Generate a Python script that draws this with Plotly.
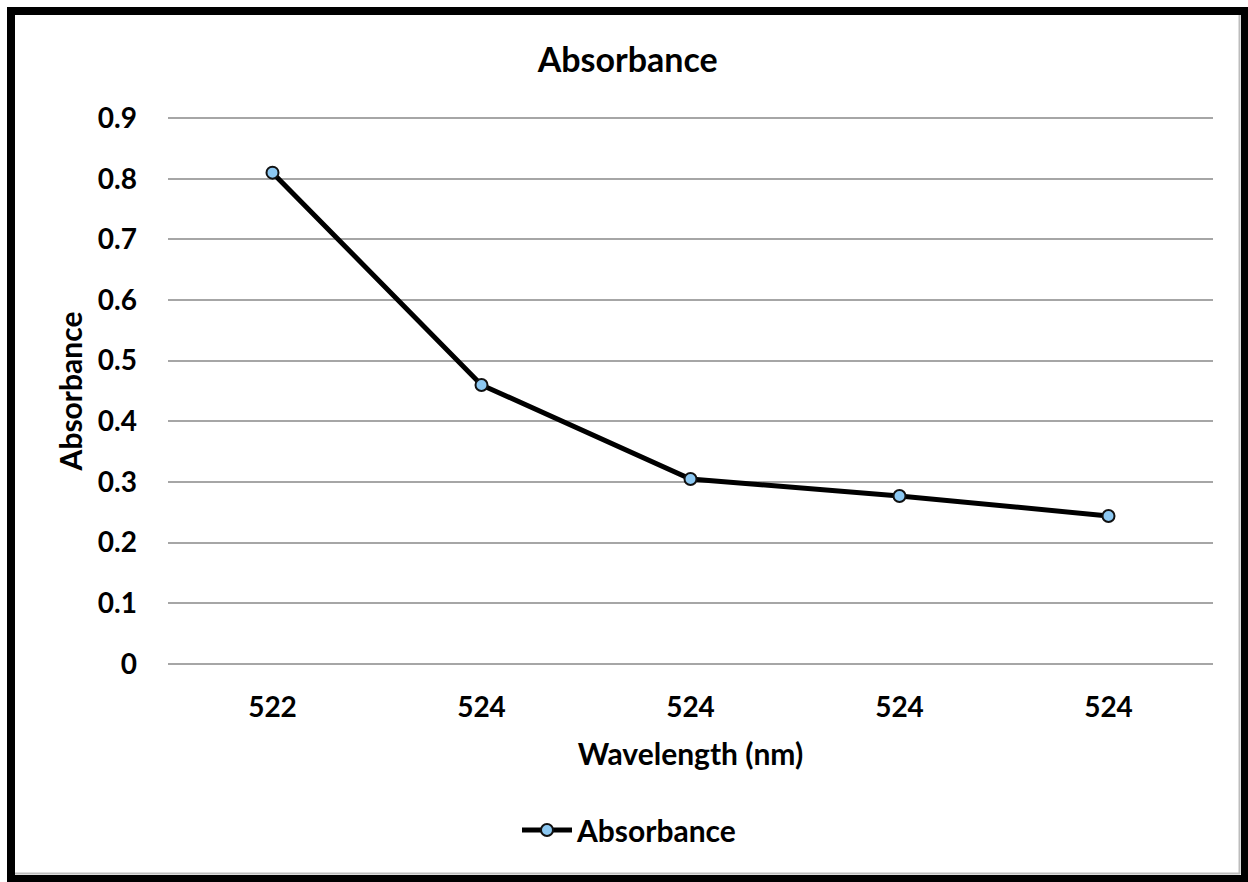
import plotly.graph_objects as go

wavelength_labels = ["522", "524", "524", "524", "524"]
absorbance = [0.81, 0.46, 0.305, 0.277, 0.244]
y_ticks = [0, 0.1, 0.2, 0.3, 0.4, 0.5, 0.6, 0.7, 0.8, 0.9]
y_tick_labels = ["0", "0.1", "0.2", "0.3", "0.4", "0.5", "0.6", "0.7", "0.8", "0.9"]

positions = list(range(len(wavelength_labels)))
FONT = "Lato"

fig = go.Figure()
fig.add_trace(go.Scatter(
    x=positions, y=absorbance, mode="lines+markers", name="<b>Absorbance</b>",
    line=dict(color="black", width=5),
    marker=dict(size=12, color="#8cc8f2", line=dict(color="#111111", width=2)),
))

fig.update_layout(
    width=1248, height=882,
    margin=dict(l=168, r=35, t=115, b=215),
    paper_bgcolor="white", plot_bgcolor="white",
    font=dict(family=FONT, color="black", size=28),
    title=dict(text="<b>Absorbance</b>", x=0.503, xref="container", xanchor="center",
               y=1 - 60 / 882, yref="container", yanchor="middle",
               font=dict(size=34, family=FONT, color="black")),
    xaxis=dict(range=[-0.5, 4.5], tickmode="array", tickvals=positions,
               ticktext=[f"<b>{t}</b>" for t in wavelength_labels],
               tickfont=dict(size=28),
               showgrid=False, zeroline=False, showline=False, ticks="",
               ticklabelstandoff=21,
               title=dict(text="<b>Wavelength (nm)</b>", font=dict(size=30), standoff=21),
               fixedrange=True),
    yaxis=dict(range=[-0.005, 0.905], tickmode="array", tickvals=y_ticks,
               ticktext=[f"<b>{t}</b>" for t in y_tick_labels],
               tickfont=dict(size=28),
               showgrid=True, gridcolor="#a6a6a6", gridwidth=2,
               zeroline=False, showline=False, ticks="", ticklabelstandoff=30,
               title=dict(text="<b>Absorbance</b>", font=dict(size=30), standoff=6)),
    showlegend=True,
    legend=dict(orientation="h", x=(517 - 168) / 1045, xanchor="left",
                y=(667 - 830) / 552, yanchor="middle",
                font=dict(size=30, family=FONT), itemwidth=50,
                bgcolor="rgba(0,0,0,0)"),
)

# outer frame (paper coords: plot area spans x 168..1213, y 115..667)
W, H = 1045, 552
def px(x):
    return (x - 168) / W
def py(y):
    return (667 - y) / H

fig.add_shape(type="rect", xref="paper", yref="paper",
              x0=px(11), x1=px(1245), y0=py(11), y1=py(879),
              line=dict(color="black", width=8), fillcolor="rgba(0,0,0,0)", layer="above")
fig.add_shape(type="line", xref="paper", yref="paper",
              x0=px(1239.5), x1=px(1239.5), y0=py(15), y1=py(874),
              line=dict(color="#bdbdbd", width=2))
fig.add_shape(type="line", xref="paper", yref="paper",
              x0=px(15), x1=px(1240), y0=py(873.5), y1=py(873.5),
              line=dict(color="#bdbdbd", width=2))

fig.write_html("out.html")
